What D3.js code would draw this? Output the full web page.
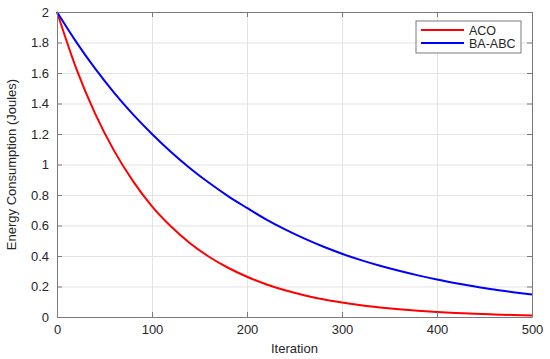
<!DOCTYPE html>
<html>
<head>
<meta charset="utf-8">
<script src="https://cdn.jsdelivr.net/npm/d3@7"></script>
<style>
  body { margin: 0; background: #fff; }
  text { font-family: Arial, "Liberation Sans", sans-serif; fill: #262626; }
  .grid line { stroke: #e3e3e3; stroke-width: 1; }
  .grid path { display: none; }
  .axis path, .axis line { stroke: #7a7a7a; }
</style>
</head>
<body>
<div id="chart"></div>
<script>
const iterations = [0, 20, 40, 60, 80, 100, 120, 140, 160, 180, 200, 220, 240, 260,
  280, 300, 320, 340, 360, 380, 400, 420, 440, 460, 480, 500];
const acoValues = [2.0, 1.634, 1.335, 1.091, 0.891, 0.725, 0.593, 0.484, 0.395, 0.323,
  0.264, 0.215, 0.175, 0.143, 0.116, 0.095, 0.077, 0.063, 0.051, 0.041, 0.033, 0.027,
  0.021, 0.017, 0.013, 0.010];
const baAbcValues = [2.0, 1.806, 1.630, 1.472, 1.329, 1.200, 1.082, 0.976, 0.880, 0.793,
  0.715, 0.640, 0.574, 0.515, 0.462, 0.415, 0.373, 0.336, 0.303, 0.273, 0.246, 0.222,
  0.200, 0.180, 0.163, 0.147];
const seriesNames = ['ACO', 'BA-ABC'];
const seriesColors = ['#ff0000', '#0000ff'];
const xTicks = [0, 100, 200, 300, 400, 500];
const yTicks = [0, 0.2, 0.4, 0.6, 0.8, 1, 1.2, 1.4, 1.6, 1.8, 2];

const width = 550;
const height = 359;
const margin = { top: 12, right: 18, bottom: 42, left: 57 };

const svg = d3.select('#chart')
  .append('svg')
  .attr('width', width)
  .attr('height', height);

const x = d3.scaleLinear().domain([0, 500]).range([margin.left, width - margin.right]);
const y = d3.scaleLinear().domain([0, 2]).range([height - margin.bottom, margin.top]);

// gridlines
svg.append('g')
  .attr('class', 'grid')
  .attr('transform', `translate(0, ${height - margin.bottom})`)
  .call(d3.axisBottom(x).tickValues(xTicks).tickFormat('')
    .tickSize(-(height - margin.top - margin.bottom)));

svg.append('g')
  .attr('class', 'grid')
  .attr('transform', `translate(${margin.left}, 0)`)
  .call(d3.axisLeft(y).tickValues(yTicks).tickFormat('')
    .tickSize(-(width - margin.left - margin.right)));

// lines
const series = [acoValues, baAbcValues];
const line = d3.line()
  .x((d, i) => x(iterations[i]))
  .y(d => y(d))
  .curve(d3.curveMonotoneX);

series.forEach((vals, k) => {
  svg.append('path')
    .datum(vals)
    .attr('fill', 'none')
    .attr('stroke', seriesColors[k])
    .attr('stroke-width', 2)
    .attr('d', line);
});

// box axes, ticks pointing inward
const tickLen = 5;
const xAxis = svg.append('g')
  .attr('class', 'axis')
  .attr('transform', `translate(0, ${height - margin.bottom})`)
  .call(d3.axisBottom(x).tickValues(xTicks).tickSizeInner(-tickLen).tickSizeOuter(0).tickPadding(8));
xAxis.selectAll('text').style('font-size', '13px').attr('fill', '#262626');

svg.append('g')
  .attr('class', 'axis')
  .attr('transform', `translate(0, ${margin.top})`)
  .call(d3.axisTop(x).tickValues(xTicks).tickSizeInner(-tickLen).tickSizeOuter(0).tickFormat(''));

const yAxis = svg.append('g')
  .attr('class', 'axis')
  .attr('transform', `translate(${margin.left}, 0)`)
  .call(d3.axisLeft(y).tickValues(yTicks).tickSizeInner(-tickLen).tickSizeOuter(0).tickPadding(8)
    .tickFormat(d3.format('~g')));
yAxis.selectAll('text').style('font-size', '13px').attr('fill', '#262626');

svg.append('g')
  .attr('class', 'axis')
  .attr('transform', `translate(${width - margin.right}, 0)`)
  .call(d3.axisRight(y).tickValues(yTicks).tickSizeInner(-tickLen).tickSizeOuter(0).tickFormat(''));

// labels
svg.append('text')
  .attr('x', (margin.left + width - margin.right) / 2)
  .attr('y', height - 6)
  .attr('text-anchor', 'middle')
  .style('font-size', '13px')
  .text('Iteration');

svg.append('text')
  .attr('transform', `translate(16, ${(margin.top + height - margin.bottom) / 2}) rotate(-90)`)
  .attr('text-anchor', 'middle')
  .style('font-size', '13px')
  .text('Energy Consumption (Joules)');

// legend
const legend = svg.append('g').attr('transform', 'translate(416, 21)');
legend.append('rect')
  .attr('width', 105)
  .attr('height', 32)
  .attr('fill', '#fff')
  .attr('stroke', '#7a7a7a');

seriesNames.forEach((name, k) => {
  const ly = 9 + k * 13;
  legend.append('line')
    .attr('x1', 5).attr('x2', 48)
    .attr('y1', ly).attr('y2', ly)
    .attr('stroke', seriesColors[k])
    .attr('stroke-width', 2);
  legend.append('text')
    .attr('x', 53)
    .attr('y', ly + 4.5)
    .style('font-size', '12.5px')
    .text(name);
});
</script>
</body>
</html>
